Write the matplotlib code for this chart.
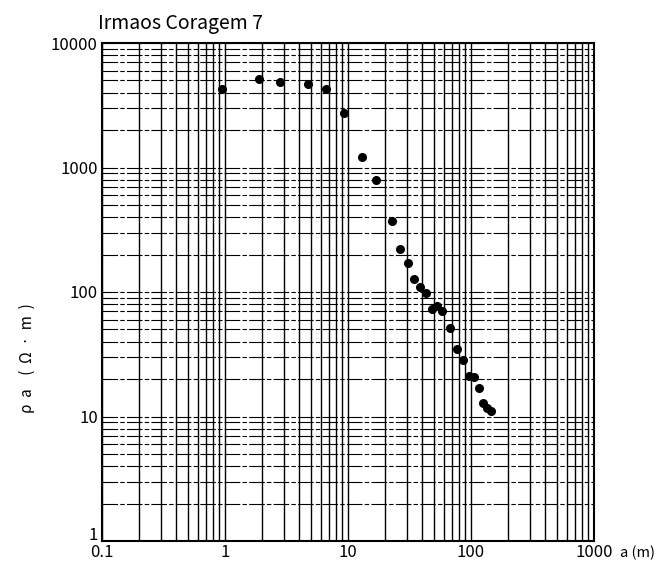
import numpy as np
import matplotlib
matplotlib.use("Agg")
import matplotlib.pyplot as plt
from matplotlib.ticker import LogLocator, NullFormatter, FixedLocator, FixedFormatter
from matplotlib.transforms import ScaledTranslation

plt.rcParams['font.family'] = ['Noto Sans CJK JP', 'DejaVu Sans']

# ── data ──────────────────────────────────────────────────────────────────────
title = "Irmaos Coragem 7"
spacing = [0.95, 1.9, 2.8, 4.7, 6.6, 9.3, 13, 17, 22.8, 26.6, 30.6, 34.4, 38.3,
           43.3, 48.5, 52.9, 58.1, 67.5, 76.5, 86.5, 96.9, 106, 116, 125, 134, 145]
rho_a = [4280, 5170, 4830, 4660, 4300, 2750, 1210, 800, 374, 221, 170, 128, 110,
         98, 73, 77, 70, 51.4, 35.0, 28.4, 21.3, 20.8, 16.9, 12.8, 11.6, 11.1]
x_ticks = [0.1, 1, 10, 100, 1000]
x_labels = ["0.1", "1", "10", "100", "1000"]
y_ticks = [1, 10, 100, 1000, 10000]
y_labels = ["1", "10", "100", "1000", "10000"]

# ── figure ────────────────────────────────────────────────────────────────────
fig = plt.figure(figsize=(6.63, 5.67), dpi=100)
ax = fig.add_axes([102 / 663, 1 - 541 / 567, 492 / 663, 498 / 567])
ax.set_xscale("log")
ax.set_yscale("log")
ax.set_xlim(0.1, 1000)
ax.set_ylim(1, 10000)

ax.xaxis.set_major_locator(FixedLocator(x_ticks))
ax.xaxis.set_major_formatter(FixedFormatter(x_labels))
ax.yaxis.set_major_locator(FixedLocator(y_ticks))
ax.yaxis.set_major_formatter(FixedFormatter(y_labels))
for axis in (ax.xaxis, ax.yaxis):
    axis.set_minor_locator(LogLocator(base=10, subs=np.arange(2, 10)))
    axis.set_minor_formatter(NullFormatter())

ax.tick_params(which="both", length=0, labelsize=12)
ax.tick_params(axis="x", pad=2)
ax.tick_params(axis="y", pad=3)

# the bottom "1" sits a little higher than the others in the scan
fig.canvas.draw()
lbl_one = ax.yaxis.get_ticklabels()[0]
lbl_one.set_transform(lbl_one.get_transform()
                      + ScaledTranslation(0, 8 / 100, fig.dpi_scale_trans))

# graph-paper grid: solid verticals, broken horizontals
ax.grid(True, which="both", axis="x", color="black", lw=1.0, ls="-")
ax.grid(True, which="both", axis="y", color="black", lw=0.8,
        ls=(0, (14, 2, 4, 2)))
ax.set_axisbelow(True)

for sp in ax.spines.values():
    sp.set_linewidth(1.5)
    sp.set_color("black")

ax.plot(spacing, rho_a, "o", color="black", ms=5.5, zorder=5)

fig.text(98 / 663, 1 - 23 / 567, title, fontsize=14, ha="left", va="center")
fig.text(620 / 663, 1 - 553 / 567, "a (m)", fontsize=10.5, ha="left", va="center")
fig.text(27 / 663, 1 - 358 / 567, "ρ  a    (  Ω  ·  m  )", fontsize=11,
         rotation=90, ha="center", va="center")

fig.savefig("out.png", dpi=100, facecolor="white")
